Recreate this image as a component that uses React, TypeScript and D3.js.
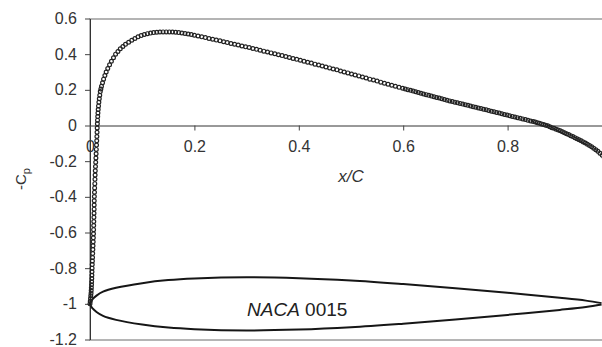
//@ts-nocheck
import React, {useEffect, useRef} from 'react';
import * as d3 from 'd3';

const xTicks = [0, 0.2, 0.4, 0.6, 0.8];
const yTicks = [-1.2, -1, -0.8, -0.6, -0.4, -0.2, 0, 0.2, 0.4, 0.6];

// upper surface pressure distribution: [x/C, -Cp]
const cpPoints = [
    [0.0000, -1.000], [0.0005, -0.985], [0.0010, -0.970], [0.0015, -0.955], [0.0020, -0.940], [0.0023, -0.925],
    [0.0026, -0.910], [0.0029, -0.893], [0.0031, -0.876], [0.0034, -0.858], [0.0036, -0.840], [0.0038, -0.820],
    [0.0040, -0.800], [0.0043, -0.780], [0.0046, -0.760], [0.0049, -0.740], [0.0052, -0.718], [0.0055, -0.696],
    [0.0058, -0.674], [0.0061, -0.652], [0.0064, -0.630], [0.0067, -0.607], [0.0069, -0.584], [0.0071, -0.561],
    [0.0073, -0.538], [0.0075, -0.515], [0.0077, -0.492], [0.0079, -0.469], [0.0080, -0.446], [0.0081, -0.422],
    [0.0083, -0.398], [0.0086, -0.374], [0.0089, -0.350], [0.0092, -0.326], [0.0095, -0.302], [0.0098, -0.278],
    [0.0101, -0.254], [0.0105, -0.230], [0.0109, -0.206], [0.0113, -0.182], [0.0117, -0.158], [0.0121, -0.134],
    [0.0125, -0.110], [0.0129, -0.086], [0.0132, -0.062], [0.0135, -0.038], [0.0138, -0.014], [0.0141, 0.010],
    [0.0144, 0.030], [0.0148, 0.050], [0.0152, 0.070], [0.0157, 0.090], [0.0163, 0.110], [0.0170, 0.130],
    [0.0178, 0.150], [0.0187, 0.170], [0.0197, 0.190], [0.0208, 0.205], [0.0220, 0.220], [0.0240, 0.240],
    [0.0260, 0.260], [0.0285, 0.280], [0.0310, 0.300], [0.0340, 0.320], [0.0375, 0.340], [0.0410, 0.360],
    [0.0450, 0.380], [0.0490, 0.400], [0.0535, 0.415], [0.0580, 0.430], [0.0630, 0.443], [0.0680, 0.455],
    [0.0740, 0.467], [0.0800, 0.478], [0.0860, 0.488], [0.0920, 0.497], [0.0980, 0.504], [0.1040, 0.510],
    [0.1100, 0.515], [0.1160, 0.518], [0.1220, 0.521], [0.1280, 0.523], [0.1340, 0.524], [0.1400, 0.525],
    [0.1460, 0.525], [0.1520, 0.525], [0.1580, 0.524], [0.1640, 0.523], [0.1700, 0.521], [0.1760, 0.519],
    [0.1820, 0.516], [0.1880, 0.513], [0.1940, 0.510], [0.2000, 0.506],
    [0.207, 0.502], [0.214, 0.497], [0.221, 0.493], [0.228, 0.488], [0.235, 0.484], [0.242, 0.479],
    [0.249, 0.475], [0.256, 0.470], [0.263, 0.465], [0.270, 0.460], [0.277, 0.456], [0.284, 0.451],
    [0.291, 0.446], [0.298, 0.441], [0.305, 0.437], [0.312, 0.432], [0.319, 0.427], [0.326, 0.422],
    [0.333, 0.417], [0.340, 0.412], [0.347, 0.407], [0.354, 0.402], [0.361, 0.397], [0.368, 0.392],
    [0.375, 0.387], [0.382, 0.381], [0.389, 0.376], [0.396, 0.371], [0.403, 0.366], [0.410, 0.360],
    [0.417, 0.355], [0.424, 0.350], [0.431, 0.344], [0.438, 0.339], [0.445, 0.334], [0.452, 0.328],
    [0.459, 0.323], [0.466, 0.317], [0.473, 0.312], [0.480, 0.306], [0.487, 0.300], [0.494, 0.295],
    [0.501, 0.289], [0.508, 0.283], [0.515, 0.278], [0.522, 0.272], [0.529, 0.266], [0.536, 0.260],
    [0.543, 0.255], [0.550, 0.249], [0.557, 0.243], [0.564, 0.237], [0.571, 0.231], [0.578, 0.226],
    [0.585, 0.220], [0.592, 0.214], [0.599, 0.209],
    [0.604, 0.205], [0.609, 0.201], [0.614, 0.197], [0.619, 0.193], [0.624, 0.189], [0.629, 0.185],
    [0.634, 0.181], [0.639, 0.177], [0.644, 0.173], [0.649, 0.169], [0.654, 0.165], [0.659, 0.161],
    [0.664, 0.157], [0.669, 0.154], [0.674, 0.150], [0.679, 0.146], [0.684, 0.142], [0.689, 0.138],
    [0.694, 0.135], [0.699, 0.131], [0.704, 0.127], [0.709, 0.124], [0.714, 0.120], [0.719, 0.116],
    [0.724, 0.113], [0.729, 0.109], [0.734, 0.105], [0.739, 0.102], [0.744, 0.098], [0.749, 0.095],
    [0.754, 0.091], [0.759, 0.088], [0.764, 0.084], [0.769, 0.080], [0.774, 0.077], [0.779, 0.073],
    [0.784, 0.070], [0.789, 0.066], [0.794, 0.062], [0.799, 0.059], [0.804, 0.055], [0.809, 0.051],
    [0.814, 0.048], [0.819, 0.044], [0.824, 0.040], [0.829, 0.037], [0.834, 0.033], [0.839, 0.029],
    [0.844, 0.025], [0.849, 0.022], [0.853, 0.019], [0.857, 0.015], [0.861, 0.012], [0.865, 0.009],
    [0.869, 0.005], [0.873, 0.002], [0.877, -0.002], [0.881, -0.007], [0.885, -0.012], [0.889, -0.016],
    [0.893, -0.021], [0.897, -0.025], [0.901, -0.030], [0.905, -0.035], [0.909, -0.041], [0.913, -0.046],
    [0.917, -0.051], [0.921, -0.057], [0.925, -0.062], [0.929, -0.068], [0.933, -0.074], [0.937, -0.080],
    [0.941, -0.086], [0.945, -0.092], [0.949, -0.098], [0.953, -0.105], [0.957, -0.112], [0.961, -0.119],
    [0.965, -0.127], [0.969, -0.136], [0.973, -0.145], [0.977, -0.156], [0.981, -0.167], [0.985, -0.178],
    [0.989, -0.190], [0.993, -0.203]
];

// airfoil sketch: chord in x/C units, half thickness in -Cp units around the centre line
const foilX = [0, 0.005, 0.0125, 0.025, 0.05, 0.1, 0.15, 0.2, 0.3, 0.4, 0.5, 0.6, 0.7, 0.8, 0.9, 0.95, 0.98];
const foilHalf = [0, 0.026, 0.046, 0.068, 0.09, 0.116, 0.133, 0.142, 0.149, 0.144, 0.131, 0.111, 0.088, 0.062, 0.034, 0.018, 0.004];
const foilCentre = -1;

const FONT = '"Liberation Sans", Arial, sans-serif';

const App = () => {
    const svgRef = useRef(null);

    useEffect(() => {
        const svg = d3.select(svgRef.current);
        svg.selectAll('*').remove();

        const width = 602;
        const height = 347;
        const x = d3.scaleLinear().domain([0, 1]).range([90, 612]);
        const y = d3.scaleLinear().domain([-1.2, 0.6]).range([339.5, 18.5]);

        svg.attr('width', width).attr('height', height);

        // frame
        svg.append('rect')
            .attr('x', x(0))
            .attr('y', y(0.6) + 0.5)
            .attr('width', x(1) - x(0))
            .attr('height', y(-1.2) - y(0.6))
            .attr('fill', 'none')
            .attr('stroke', '#9c9c9c')
            .attr('stroke-width', 1.5);

        const yAxis = svg.append('g')
            .attr('transform', 'translate(' + x(0) + ',0)')
            .call(d3.axisLeft(y).tickValues(yTicks).tickSize(5).tickSizeOuter(0).tickPadding(8)
                .tickFormat(d => String(d)));
        const xAxis = svg.append('g')
            .attr('transform', 'translate(0,' + y(0) + ')')
            .call(d3.axisBottom(x).tickValues(xTicks).tickSize(5).tickSizeOuter(0).tickPadding(10)
                .tickFormat(d => String(d)));

        [yAxis, xAxis].forEach(g => {
            g.attr('font-size', 16).attr('font-family', FONT);
            g.select('.domain').attr('stroke', '#333');
            g.selectAll('.tick line').attr('stroke', '#444');
            g.selectAll('.tick text').attr('fill', '#333');
        });

        // airfoil outline
        const upper = foilX.map((fx, i) => [fx, foilCentre + foilHalf[i]]).reverse();
        const lower = foilX.slice(1).map((fx, i) => [fx, foilCentre - foilHalf[i + 1]]);
        svg.append('path')
            .attr('d', d3.line().x(d => x(d[0])).y(d => y(d[1])).curve(d3.curveCatmullRom)(upper.concat(lower)))
            .attr('fill', 'none')
            .attr('stroke', '#161616')
            .attr('stroke-width', 2);

        const naca = svg.append('text')
            .attr('x', x(0.397))
            .attr('y', y(-1.066))
            .attr('text-anchor', 'middle')
            .attr('font-family', FONT)
            .attr('font-size', 19)
            .attr('fill', '#222');
        naca.append('tspan').attr('font-style', 'italic').text('NACA');
        naca.append('tspan').text(' 0015');

        // pressure markers
        svg.append('g')
            .selectAll('circle')
            .data(cpPoints)
            .join('circle')
            .attr('cx', d => x(d[0]))
            .attr('cy', d => y(d[1]))
            .attr('r', 1.9)
            .attr('fill', 'none')
            .attr('stroke', '#222')
            .attr('stroke-width', 1.2);

        // axis titles
        svg.append('text')
            .attr('x', x(0.5))
            .attr('y', y(0) + 56)
            .attr('text-anchor', 'middle')
            .attr('font-family', FONT)
            .attr('font-size', 17)
            .attr('font-style', 'italic')
            .attr('fill', '#333')
            .text('x/C');

        const cpLabel = svg.append('text')
            .attr('transform', 'translate(26,' + y(-0.3) + ') rotate(-90)')
            .attr('text-anchor', 'middle')
            .attr('font-family', FONT)
            .attr('font-size', 15)
            .attr('fill', '#333');
        cpLabel.append('tspan').text('-C');
        cpLabel.append('tspan').attr('font-size', 11).attr('dy', 4).text('p');
    }, []);

    return (
        <svg ref={svgRef} style={{position: 'absolute', left: 0, top: 0}}/>
    );
};

export default App;
